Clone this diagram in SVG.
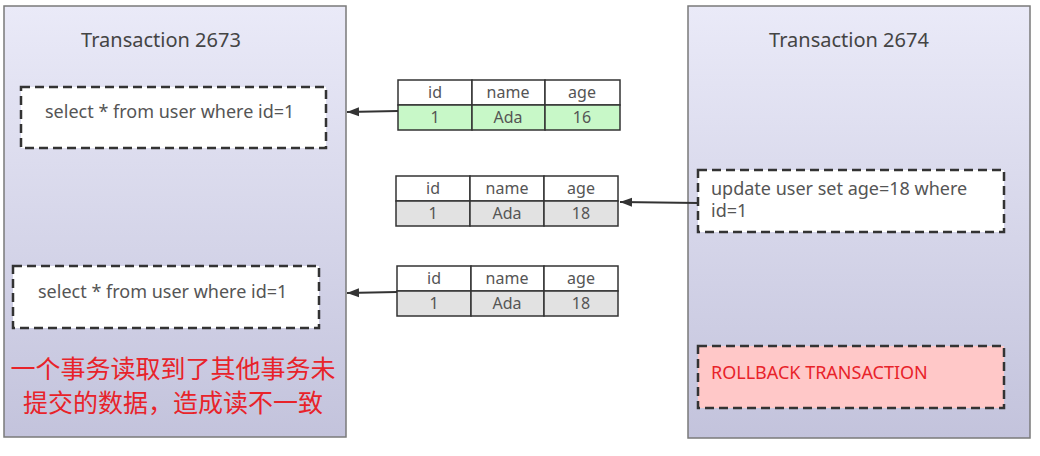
<svg xmlns="http://www.w3.org/2000/svg" width="1040" height="456" viewBox="0 0 1040 456">
<defs>
<linearGradient id="panelGrad" x1="0" y1="0" x2="0" y2="1">
<stop offset="0" stop-color="#eaeaf8"/>
<stop offset="1" stop-color="#c3c3dc"/>
</linearGradient>
<marker id="arrow" viewBox="0 0 12 10" refX="12" refY="5" markerWidth="12" markerHeight="10" markerUnits="userSpaceOnUse" orient="auto">
<path d="M0,0.5 L12,5 L0,9.5 Z" fill="#333"/>
</marker>
</defs>
<style>
text{font-family:"Noto Sans","Open Sans","Noto Sans CJK SC",sans-serif;}
.panel{fill:url(#panelGrad);stroke:#7a7a7a;stroke-width:1.5;}
.title{font-size:20px;fill:#444;text-anchor:middle;}
.dash{fill:#fff;stroke:#333;stroke-width:2.5;stroke-dasharray:9 5;}
.rb{fill:#ffc8c8;stroke:#333;stroke-width:2.5;stroke-dasharray:9 5;}
.q{font-size:18px;fill:#555;}
.red{fill:#e8232a;}
.cell{stroke:#333;stroke-width:1.5;}
.hd{fill:#fff;}
.green{fill:#c8f8c8;}
.gray{fill:#e2e2e2;}
.t{font-size:16px;fill:#555;text-anchor:middle;}
.conn{stroke:#333;stroke-width:2;fill:none;marker-end:url(#arrow);}
</style>
<g id="trx2673">
<rect class="panel" x="4" y="6" width="342" height="431"/>
<text class="title" x="161" y="47">Transaction 2673</text>
</g>
<g id="trx2674">
<rect class="panel" x="688" y="6" width="342" height="432"/>
<text class="title" x="849" y="47">Transaction 2674</text>
</g>
<g id="select1">
<rect class="dash" x="21" y="87" width="305" height="61"/>
<text class="q" x="45" y="118">select * from user where id=1</text>
</g>
<g id="select2">
<rect class="dash" x="13" y="266" width="306" height="62"/>
<text class="q" x="38" y="298">select * from user where id=1</text>
</g>
<g id="note">
<text class="red" x="173" y="378" font-size="25" text-anchor="middle">一个事务读取到了其他事务未</text>
<text class="red" x="173" y="412" font-size="25" text-anchor="middle">提交的数据，造成读不一致</text>
</g>
<g id="update">
<rect class="dash" x="698" y="170" width="306" height="62"/>
<text class="q" x="711" y="195">update user set age=18 where</text>
<text class="q" x="711" y="217">id=1</text>
</g>
<g id="rollback">
<rect class="rb" x="698" y="346" width="306" height="62"/>
<text class="red" x="711" y="379" font-size="18">ROLLBACK TRANSACTION</text>
</g>
<g id="table1">
<rect class="cell hd" x="398" y="80" width="74" height="25"/>
<rect class="cell hd" x="472" y="80" width="73" height="25"/>
<rect class="cell hd" x="545" y="80" width="75" height="25"/>
<rect class="cell green" x="398" y="105" width="74" height="25"/>
<rect class="cell green" x="472" y="105" width="73" height="25"/>
<rect class="cell green" x="545" y="105" width="75" height="25"/>
<text class="t" x="435" y="98">id</text>
<text class="t" x="508" y="98">name</text>
<text class="t" x="582" y="98">age</text>
<text class="t" x="435" y="123">1</text>
<text class="t" x="508" y="123">Ada</text>
<text class="t" x="582" y="123">16</text>
</g>
<g id="table2">
<rect class="cell hd" x="396" y="176" width="74" height="25"/>
<rect class="cell hd" x="470" y="176" width="74" height="25"/>
<rect class="cell hd" x="544" y="176" width="74" height="25"/>
<rect class="cell gray" x="396" y="201" width="74" height="25"/>
<rect class="cell gray" x="470" y="201" width="74" height="25"/>
<rect class="cell gray" x="544" y="201" width="74" height="25"/>
<text class="t" x="433" y="194">id</text>
<text class="t" x="507" y="194">name</text>
<text class="t" x="581" y="194">age</text>
<text class="t" x="433" y="219">1</text>
<text class="t" x="507" y="219">Ada</text>
<text class="t" x="581" y="219">18</text>
</g>
<g id="table3">
<rect class="cell hd" x="397" y="266" width="74" height="25"/>
<rect class="cell hd" x="471" y="266" width="73" height="25"/>
<rect class="cell hd" x="544" y="266" width="74" height="25"/>
<rect class="cell gray" x="397" y="291" width="74" height="25"/>
<rect class="cell gray" x="471" y="291" width="73" height="25"/>
<rect class="cell gray" x="544" y="291" width="74" height="25"/>
<text class="t" x="434" y="284">id</text>
<text class="t" x="507" y="284">name</text>
<text class="t" x="581" y="284">age</text>
<text class="t" x="434" y="309">1</text>
<text class="t" x="507" y="309">Ada</text>
<text class="t" x="581" y="309">18</text>
</g>
<g id="connectors">
<path class="conn" d="M398,111 L347,112"/>
<path class="conn" d="M698,203 L620,202"/>
<path class="conn" d="M397,292 L347,293"/>
</g>
</svg>
